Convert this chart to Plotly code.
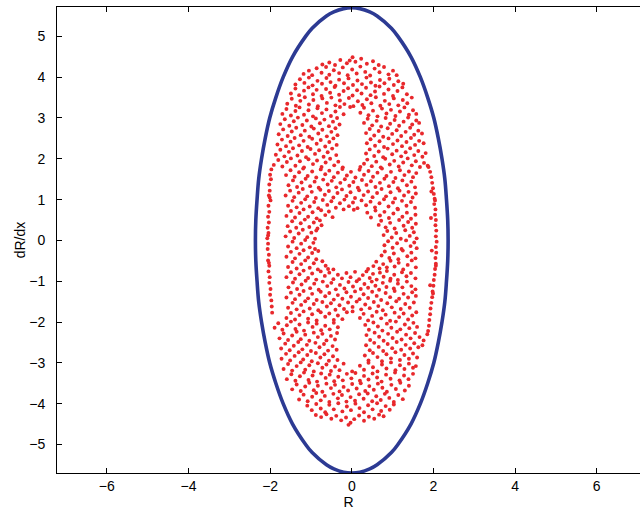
import plotly.graph_objects as go

# ---- Blue boundary curve ----
curve_x = [0.00, 0.20, 0.44, 0.62, 0.97, 1.13, 1.45, 1.68, 1.86, 2.01, 2.12, 2.21, 2.28, 2.32, 2.35, 2.36,
           2.35, 2.32, 2.28, 2.21, 2.12, 2.01, 1.86, 1.68, 1.45, 1.13, 0.97, 0.62, 0.44, 0.20, 0.00,
           -0.20, -0.44, -0.62, -0.97, -1.13, -1.45, -1.68, -1.86, -2.01, -2.12, -2.21, -2.28, -2.32, -2.35, -2.36,
           -2.35, -2.32, -2.28, -2.21, -2.12, -2.01, -1.86, -1.68, -1.45, -1.13, -0.97, -0.62, -0.44, -0.20, 0.00]
curve_y = [5.70, 5.68, 5.60, 5.50, 5.20, 5.00, 4.50, 4.00, 3.50, 3.00, 2.50, 2.00, 1.50, 1.00, 0.50, 0.00,
           -0.50, -1.00, -1.50, -2.00, -2.50, -3.00, -3.50, -4.00, -4.50, -5.00, -5.20, -5.50, -5.60, -5.68, -5.70,
           -5.68, -5.60, -5.50, -5.20, -5.00, -4.50, -4.00, -3.50, -3.00, -2.50, -2.00, -1.50, -1.00, -0.50, 0.00,
           0.50, 1.00, 1.50, 2.00, 2.50, 3.00, 3.50, 4.00, 4.50, 5.00, 5.20, 5.50, 5.60, 5.68, 5.70]

# ---- Red scatter points, grouped by region ----
upper_pts = [
    (-0.72,4.31),(-0.55,4.36),(-0.41,4.30),(-0.28,4.42),(-0.12,4.34),(0.02,4.49),(0.09,4.38),(0.23,4.45),(0.37,4.33),(0.52,4.39),(0.66,4.30),(-0.05,4.41),
    (-1.18,4.08),(-1.05,4.16),(-0.97,4.05),(-0.86,4.22),(-0.74,4.11),(-0.63,4.25),(-0.55,4.06),(-0.44,4.17),(-0.31,4.10),(-0.22,4.24),(-0.10,4.05),(0.01,4.19),(0.12,4.09),(0.21,4.26),(0.33,4.13),(0.45,4.04),(0.56,4.21),(0.68,4.12),(0.79,4.25),(0.90,4.07),(1.01,4.16),(1.10,4.05),
    (-1.38,3.82),(-1.27,3.95),(-1.16,3.86),(-1.05,3.99),(-0.96,3.80),(-0.84,3.91),(-0.73,3.84),(-0.62,3.98),(-0.52,3.88),(-0.40,3.79),(-0.31,3.94),(-0.19,3.85),(-0.08,3.97),(0.03,3.81),(0.14,3.92),(0.25,3.83),(0.36,3.99),(0.47,3.87),(0.58,3.79),(0.69,3.93),(0.80,3.85),(0.92,3.96),(1.03,3.81),(1.14,3.90),(1.26,3.84),
    (-1.49,3.60),(-1.38,3.72),(-1.29,3.56),(-1.17,3.67),(-1.06,3.75),(-0.95,3.58),(-0.86,3.69),(-0.74,3.54),(-0.63,3.71),(-0.53,3.62),(-0.42,3.76),(-0.31,3.57),(-0.20,3.66),(-0.09,3.73),(0.02,3.55),(0.13,3.68),(0.24,3.60),(0.35,3.74),(0.46,3.56),(0.57,3.65),(0.68,3.77),(0.79,3.59),(0.90,3.70),(1.01,3.54),(1.12,3.66),(1.24,3.75),(1.35,3.58),
    (-1.58,3.35),(-1.47,3.47),(-1.37,3.30),(-1.26,3.42),(-1.15,3.51),(-1.05,3.33),(-0.94,3.44),(-0.83,3.29),(-0.72,3.48),(-0.61,3.37),(-0.50,3.50),(-0.40,3.31),(-0.29,3.43),(-0.18,3.34),(-0.07,3.49),(0.04,3.29),(0.15,3.41),(0.26,3.32),(0.37,3.46),(0.48,3.36),(0.59,3.51),(0.70,3.30),(0.81,3.42),(0.92,3.34),(1.03,3.48),(1.14,3.31),(1.25,3.44),(1.36,3.36),(1.47,3.50),
    (-1.70,3.10),(-1.60,3.22),(-1.49,3.06),(-1.38,3.17),(-1.28,3.26),(-1.17,3.08),(-1.06,3.19),(-0.95,3.04),(-0.84,3.24),(-0.73,3.12),(-0.62,3.21),(-0.51,3.05),(-0.40,3.16),(-0.29,3.27),(-0.20,3.09),(-0.04,3.27),(0.21,3.13),(0.30,3.25),(0.41,3.07),(0.52,3.18),(0.63,3.04),(0.74,3.23),(0.85,3.11),(0.96,3.20),(1.07,3.05),(1.18,3.16),(1.29,3.26),(1.40,3.08),(1.50,3.19),(1.58,3.10),
    (-1.75,2.85),(-1.64,2.97),(-1.53,2.81),(-1.42,2.92),(-1.32,3.01),(-1.21,2.83),(-1.10,2.94),(-0.99,2.79),(-0.88,2.99),(-0.78,2.87),(-0.67,2.96),(-0.56,2.80),(-0.46,2.91),(-0.36,3.00),(-0.30,2.84),(0.30,2.88),(0.39,2.98),(0.50,2.82),(0.61,2.93),(0.72,2.79),(0.83,3.00),(0.94,2.86),(1.05,2.95),(1.16,2.81),(1.27,2.91),(1.38,3.01),(1.48,2.84),(1.58,2.94),(1.65,2.88),
    (-1.79,2.60),(-1.68,2.72),(-1.57,2.56),(-1.47,2.67),(-1.36,2.76),(-1.25,2.58),(-1.15,2.69),(-1.04,2.54),(-0.93,2.74),(-0.82,2.62),(-0.72,2.71),(-0.61,2.55),(-0.50,2.66),(-0.40,2.75),(-0.35,2.58),(0.35,2.63),(0.44,2.73),(0.55,2.57),(0.66,2.68),(0.77,2.54),(0.88,2.75),(0.99,2.61),(1.10,2.70),(1.21,2.56),(1.32,2.66),(1.43,2.76),(1.53,2.59),(1.63,2.69),(1.72,2.62),
    (-1.82,2.35),(-1.71,2.47),(-1.61,2.31),(-1.50,2.42),(-1.40,2.51),(-1.29,2.33),(-1.18,2.44),(-1.08,2.29),(-0.97,2.49),(-0.86,2.37),(-0.76,2.46),(-0.65,2.30),(-0.55,2.41),(-0.45,2.50),(-0.37,2.34),(0.37,2.38),(0.46,2.48),(0.57,2.32),(0.68,2.43),(0.79,2.29),(0.90,2.50),(1.01,2.36),(1.12,2.45),(1.23,2.31),(1.34,2.41),(1.45,2.51),(1.55,2.34),(1.65,2.44),(1.76,2.38),
    (-1.86,2.10),(-1.75,2.22),(-1.65,2.06),(-1.54,2.17),(-1.44,2.26),(-1.33,2.08),(-1.22,2.19),(-1.12,2.04),(-1.01,2.24),(-0.90,2.12),(-0.80,2.21),(-0.69,2.05),(-0.59,2.16),(-0.48,2.25),(-0.38,2.09),(0.35,2.13),(0.44,2.23),(0.55,2.07),(0.66,2.18),(0.77,2.04),(0.88,2.25),(0.99,2.11),(1.10,2.20),(1.21,2.06),(1.32,2.16),(1.43,2.26),(1.53,2.09),(1.63,2.19),(1.73,2.05),(1.81,2.14),
    (-1.91,1.85),(-1.80,1.97),(-1.70,1.81),(-1.59,1.92),(-1.49,2.01),(-1.38,1.83),(-1.27,1.94),(-1.17,1.79),(-1.06,1.99),(-0.95,1.87),(-0.85,1.96),(-0.74,1.80),(-0.64,1.91),(-0.53,2.00),(-0.43,1.84),(-0.33,1.93),(-0.22,1.79),(0.21,1.80),(0.30,1.88),(0.38,1.98),(0.49,1.82),(0.60,1.93),(0.71,1.79),(0.82,2.00),(0.93,1.86),(1.04,1.95),(1.15,1.81),(1.26,1.91),(1.37,2.01),(1.47,1.84),(1.57,1.94),(1.67,1.80),(1.77,1.90),(1.86,1.83),
]

middle_pts = [
    (-1.61,1.60),(-1.50,1.72),(-1.40,1.56),(-1.29,1.67),(-1.19,1.76),(-1.08,1.58),(-0.97,1.69),(-0.87,1.54),(-0.76,1.74),(-0.65,1.62),(-0.55,1.71),(-0.44,1.55),(-0.34,1.66),(-0.23,1.75),(-0.12,1.59),(-0.02,1.68),(0.09,1.54),(0.19,1.73),(0.30,1.61),(0.41,1.70),(0.52,1.56),(0.63,1.66),(0.74,1.76),(0.85,1.58),(0.96,1.68),(1.07,1.53),(1.18,1.72),(1.29,1.60),(1.40,1.69),(1.50,1.55),(1.58,1.65),
    (-1.55,1.35),(-1.44,1.47),(-1.34,1.31),(-1.23,1.42),(-1.13,1.51),(-1.02,1.33),(-0.91,1.44),(-0.81,1.29),(-0.70,1.49),(-0.59,1.37),(-0.49,1.46),(-0.38,1.30),(-0.28,1.41),(-0.17,1.50),(-0.06,1.34),(0.04,1.43),(0.15,1.29),(0.25,1.48),(0.36,1.36),(0.47,1.45),(0.58,1.31),(0.69,1.41),(0.80,1.51),(0.91,1.33),(1.02,1.43),(1.13,1.28),(1.24,1.47),(1.35,1.35),(1.46,1.44),(1.55,1.30),
    (-1.62,1.10),(-1.51,1.22),(-1.41,1.06),(-1.30,1.17),(-1.20,1.26),(-1.09,1.08),(-0.98,1.19),(-0.88,1.04),(-0.77,1.24),(-0.66,1.12),(-0.56,1.21),(-0.45,1.05),(-0.35,1.16),(-0.24,1.25),(-0.13,1.09),(-0.03,1.18),(0.08,1.04),(0.18,1.23),(0.29,1.11),(0.40,1.20),(0.51,1.06),(0.62,1.16),(0.73,1.26),(0.84,1.08),(0.95,1.18),(1.06,1.03),(1.17,1.22),(1.28,1.10),(1.39,1.19),(1.49,1.05),(1.57,1.15),
    (-1.56,0.85),(-1.45,0.97),(-1.35,0.81),(-1.24,0.92),(-1.14,1.01),(-1.03,0.83),(-0.92,0.94),(-0.82,0.79),(-0.71,0.99),(-0.60,0.87),(-0.50,0.96),(-0.39,0.80),(-0.29,0.91),(-0.18,1.00),(-0.07,0.84),(0.03,0.93),(0.14,0.79),(0.24,0.98),(0.35,0.86),(0.46,0.95),(0.57,0.81),(0.68,0.91),(0.79,1.01),(0.90,0.83),(1.01,0.93),(1.12,0.78),(1.23,0.97),(1.34,0.85),(1.45,0.94),(1.55,0.80),
    (-1.60,0.60),(-1.49,0.72),(-1.39,0.56),(-1.28,0.67),(-1.18,0.76),(-1.07,0.58),(-0.96,0.69),(-0.86,0.54),(-0.75,0.74),(-0.65,0.62),(-0.56,0.71),(-0.47,0.57),(-0.20,0.76),(0.05,0.75),(0.38,0.68),(0.47,0.56),(0.58,0.73),(0.69,0.61),(0.80,0.70),(0.91,0.55),(1.02,0.66),(1.13,0.76),(1.24,0.58),(1.35,0.68),(1.45,0.53),(1.56,0.63),
    (-1.57,0.35),(-1.46,0.47),(-1.36,0.31),(-1.25,0.42),(-1.15,0.51),(-1.04,0.33),(-0.93,0.44),(-0.84,0.29),(-0.78,0.49),(-0.74,0.37),(0.66,0.38),(0.72,0.48),(0.83,0.32),(0.94,0.43),(1.05,0.29),(1.16,0.50),(1.27,0.36),(1.38,0.45),(1.48,0.31),(1.57,0.41),
    (-1.62,0.10),(-1.51,0.22),(-1.41,0.06),(-1.30,0.17),(-1.20,0.26),(-1.09,0.08),(-0.99,0.19),(-0.90,0.04),(-0.87,0.24),(0.78,0.13),(0.87,0.23),(0.98,0.07),(1.09,0.18),(1.20,0.04),(1.31,0.25),(1.42,0.11),(1.52,0.20),(1.59,0.05),
    (-1.56,-0.15),(-1.45,-0.03),(-1.35,-0.19),(-1.24,-0.08),(-1.14,0.01),(-1.03,-0.17),(-0.94,-0.06),(-0.90,-0.21),(0.80,-0.12),(0.89,-0.02),(1.00,-0.18),(1.11,-0.07),(1.22,-0.21),(1.33,0.00),(1.44,-0.14),(1.53,-0.05),(1.59,-0.19),
    (-1.60,-0.40),(-1.49,-0.28),(-1.39,-0.44),(-1.28,-0.33),(-1.18,-0.24),(-1.07,-0.42),(-0.97,-0.31),(-0.87,-0.46),(-0.82,-0.26),(0.73,-0.37),(0.81,-0.27),(0.92,-0.43),(1.03,-0.32),(1.14,-0.46),(1.25,-0.25),(1.36,-0.39),(1.46,-0.30),(1.56,-0.44),
    (-1.56,-0.65),(-1.45,-0.53),(-1.35,-0.69),(-1.24,-0.58),(-1.14,-0.49),(-1.03,-0.67),(-0.93,-0.56),(-0.83,-0.71),(-0.72,-0.51),(-0.64,-0.62),(-0.58,-0.70),(-0.45,-0.71),(0.40,-0.70),(0.53,-0.63),(0.60,-0.52),(0.68,-0.69),(0.77,-0.58),(0.86,-0.66),(0.95,-0.50),(1.05,-0.64),(1.15,-0.55),(1.26,-0.71),(1.37,-0.60),(1.47,-0.49),(1.57,-0.66),
    (-1.60,-0.90),(-1.49,-0.78),(-1.39,-0.94),(-1.28,-0.83),(-1.18,-0.74),(-1.07,-0.92),(-0.97,-0.81),(-0.87,-0.96),(-0.76,-0.76),(-0.66,-0.87),(-0.55,-0.79),(-0.45,-0.95),(-0.34,-0.84),(-0.24,-0.93),(-0.13,-0.80),(-0.03,-0.90),(0.08,-0.77),(0.18,-0.95),(0.27,-0.85),(0.36,-0.76),(0.44,-0.92),(0.52,-0.82),(0.61,-0.96),(0.69,-0.79),(0.78,-0.89),(0.86,-0.75),(0.95,-0.94),(1.04,-0.84),(1.13,-0.97),(1.23,-0.78),(1.34,-0.88),(1.45,-0.80),(1.56,-0.93),
    (-1.55,-1.15),(-1.44,-1.03),(-1.34,-1.19),(-1.23,-1.08),(-1.13,-0.99),(-1.02,-1.17),(-0.92,-1.06),(-0.81,-1.21),(-0.71,-1.01),(-0.60,-1.12),(-0.50,-1.04),(-0.39,-1.20),(-0.29,-1.09),(-0.18,-1.18),(-0.08,-1.02),(0.03,-1.13),(0.12,-1.00),(0.22,-1.19),(0.31,-1.07),(0.40,-1.16),(0.49,-1.01),(0.58,-1.11),(0.67,-1.21),(0.76,-1.04),(0.85,-1.14),(0.94,-0.99),(1.03,-1.18),(1.13,-1.06),(1.24,-1.15),(1.35,-1.01),(1.46,-1.12),(1.56,-1.20),
    (-1.60,-1.40),(-1.49,-1.28),(-1.39,-1.44),(-1.28,-1.33),(-1.18,-1.24),(-1.07,-1.42),(-0.97,-1.31),(-0.86,-1.46),(-0.76,-1.26),(-0.65,-1.37),(-0.55,-1.29),(-0.44,-1.45),(-0.34,-1.34),(-0.23,-1.43),(-0.13,-1.27),(-0.02,-1.38),(0.08,-1.25),(0.19,-1.44),(0.29,-1.32),(0.40,-1.41),(0.50,-1.26),(0.61,-1.36),(0.72,-1.46),(0.83,-1.29),(0.94,-1.39),(1.05,-1.24),(1.16,-1.43),(1.27,-1.31),(1.38,-1.40),(1.48,-1.27),(1.57,-1.36),
    (-1.56,-1.65),(-1.45,-1.53),(-1.35,-1.69),(-1.24,-1.58),(-1.14,-1.49),(-1.03,-1.67),(-0.93,-1.56),(-0.82,-1.71),(-0.72,-1.51),(-0.61,-1.62),(-0.51,-1.54),(-0.40,-1.70),(-0.30,-1.59),(-0.19,-1.68),(-0.09,-1.52),(0.02,-1.63),(0.12,-1.50),(0.23,-1.69),(0.33,-1.57),(0.44,-1.66),(0.54,-1.51),(0.65,-1.61),(0.76,-1.71),(0.87,-1.54),(0.98,-1.64),(1.09,-1.49),(1.20,-1.68),(1.31,-1.56),(1.42,-1.65),(1.52,-1.52),
]

ring_pts = [
    (-1.97,1.74),(-2.00,1.61),(-1.98,1.50),(-2.02,1.37),(-2.01,1.22),(-2.03,1.10),(-1.99,0.98),(-2.04,0.85),(-2.02,0.70),(-2.05,0.58),(-2.03,0.44),(-2.06,0.31),(-2.04,0.18),(-2.07,0.05),(-2.05,-0.08),(-2.06,-0.21),(-2.03,-0.35),(-2.05,-0.49),(-2.02,-0.62),(-2.04,-0.76),(-2.01,-0.90),(-2.02,-1.04),(-1.99,-1.19),(-2.00,-1.33),(-1.97,-1.47),(-1.96,-1.62),(-1.95,-1.77),(-2.03,-0.55),(-2.05,0.12),(-2.01,1.05),
    (1.88,1.80),(1.92,1.68),(1.95,1.55),(1.97,1.41),(1.99,1.28),(2.01,1.14),(2.03,1.02),(2.02,0.89),(2.05,0.76),(2.04,0.63),(2.06,0.50),(2.05,0.37),(2.07,0.24),(2.06,0.10),(2.08,-0.03),(2.06,-0.16),(2.07,-0.30),(2.05,-0.43),(2.06,-0.57),(2.04,-0.70),(2.03,-0.84),(2.01,-0.97),(2.00,-1.11),(1.98,-1.25),(1.97,-1.39),(1.95,-1.53),(1.93,-1.67),(1.92,-1.81),(1.90,-1.95),(1.89,-2.09),(1.87,-2.22),(2.04,0.98),(2.06,-0.62),(1.99,-1.30),(1.94,0.55),(1.96,-0.25),(1.92,-1.10),(1.95,1.20),
]

lower_pts = [
    (-1.60,-1.90),(-1.49,-1.78),(-1.39,-1.94),(-1.28,-1.83),(-1.18,-1.74),(-1.07,-1.92),(-0.97,-1.81),(-0.86,-1.96),(-0.76,-1.76),(-0.65,-1.87),(-0.55,-1.79),(-0.44,-1.95),(-0.34,-1.84),(-0.23,-1.93),(-0.12,-1.76),(0.02,-1.74),(0.20,-1.90),(0.29,-1.80),(0.40,-1.96),(0.50,-1.85),(0.61,-1.75),(0.72,-1.91),(0.83,-1.82),(0.94,-1.97),(1.05,-1.77),(1.16,-1.88),(1.27,-1.79),(1.38,-1.94),(1.48,-1.84),(1.58,-1.76),
    (-1.89,-2.14),(-1.80,-2.03),(-1.70,-2.19),(-1.59,-2.08),(-1.49,-1.99),(-1.38,-2.17),(-1.28,-2.06),(-1.17,-2.21),(-1.07,-2.01),(-0.96,-2.12),(-0.86,-2.04),(-0.75,-2.20),(-0.65,-2.09),(-0.54,-2.18),(-0.44,-2.02),(-0.34,-2.13),(0.33,-2.07),(0.42,-2.19),(0.53,-2.01),(0.64,-2.11),(0.75,-2.21),(0.86,-2.04),(0.97,-2.14),(1.08,-1.99),(1.19,-2.18),(1.30,-2.06),(1.41,-2.15),(1.51,-2.02),(1.60,-2.12),
    (-1.77,-2.40),(-1.67,-2.28),(-1.56,-2.44),(-1.46,-2.33),(-1.35,-2.24),(-1.25,-2.42),(-1.14,-2.31),(-1.04,-2.46),(-0.93,-2.26),(-0.83,-2.37),(-0.72,-2.29),(-0.62,-2.45),(-0.51,-2.34),(-0.41,-2.43),(-0.36,-2.27),(0.36,-2.32),(0.45,-2.44),(0.56,-2.26),(0.67,-2.36),(0.78,-2.46),(0.89,-2.29),(1.00,-2.39),(1.11,-2.24),(1.22,-2.43),(1.33,-2.31),(1.44,-2.40),(1.55,-2.27),(1.66,-2.37),(1.76,-2.45),(1.85,-2.30),
    (-1.73,-2.65),(-1.63,-2.53),(-1.52,-2.69),(-1.42,-2.58),(-1.31,-2.49),(-1.21,-2.67),(-1.10,-2.56),(-1.00,-2.71),(-0.89,-2.51),(-0.79,-2.62),(-0.68,-2.54),(-0.58,-2.70),(-0.47,-2.59),(-0.37,-2.68),(0.35,-2.57),(0.44,-2.69),(0.55,-2.51),(0.66,-2.61),(0.77,-2.71),(0.88,-2.54),(0.99,-2.64),(1.10,-2.49),(1.21,-2.68),(1.32,-2.56),(1.43,-2.65),(1.53,-2.52),(1.63,-2.62),(1.73,-2.57),
    (-1.72,-2.90),(-1.61,-2.78),(-1.51,-2.94),(-1.40,-2.83),(-1.30,-2.74),(-1.19,-2.92),(-1.09,-2.81),(-0.98,-2.96),(-0.88,-2.76),(-0.77,-2.87),(-0.67,-2.79),(-0.56,-2.95),(-0.46,-2.84),(-0.35,-2.93),(0.32,-2.82),(0.41,-2.94),(0.52,-2.76),(0.63,-2.86),(0.74,-2.96),(0.85,-2.79),(0.96,-2.89),(1.07,-2.74),(1.18,-2.93),(1.29,-2.81),(1.40,-2.90),(1.50,-2.77),(1.60,-2.87),
    (-1.67,-3.15),(-1.56,-3.03),(-1.46,-3.19),(-1.35,-3.08),(-1.25,-2.99),(-1.14,-3.17),(-1.04,-3.06),(-0.93,-3.21),(-0.83,-3.01),(-0.72,-3.12),(-0.62,-3.04),(-0.51,-3.20),(-0.41,-3.09),(-0.30,-3.18),(-0.20,-3.02),(0.01,-3.21),(0.20,-3.07),(0.30,-3.17),(0.41,-3.00),(0.52,-3.11),(0.63,-3.21),(0.74,-3.04),(0.85,-3.14),(0.96,-2.99),(1.07,-3.18),(1.18,-3.06),(1.29,-3.15),(1.40,-3.02),(1.50,-3.12),(1.57,-3.08),
    (-1.59,-3.40),(-1.48,-3.28),(-1.38,-3.44),(-1.27,-3.33),(-1.17,-3.24),(-1.06,-3.42),(-0.96,-3.31),(-0.85,-3.46),(-0.75,-3.26),(-0.64,-3.37),(-0.54,-3.29),(-0.43,-3.45),(-0.33,-3.34),(-0.22,-3.43),(-0.12,-3.27),(-0.01,-3.38),(0.09,-3.25),(0.20,-3.44),(0.30,-3.32),(0.41,-3.41),(0.51,-3.26),(0.62,-3.36),(0.73,-3.46),(0.84,-3.29),(0.95,-3.39),(1.06,-3.24),(1.17,-3.43),(1.28,-3.31),(1.39,-3.40),(1.50,-3.27),
    (-1.46,-3.65),(-1.35,-3.53),(-1.25,-3.69),(-1.14,-3.58),(-1.04,-3.49),(-0.93,-3.67),(-0.83,-3.56),(-0.72,-3.71),(-0.62,-3.51),(-0.51,-3.62),(-0.41,-3.54),(-0.30,-3.70),(-0.20,-3.59),(-0.09,-3.68),(0.01,-3.52),(0.12,-3.63),(0.22,-3.50),(0.33,-3.69),(0.43,-3.57),(0.54,-3.66),(0.64,-3.51),(0.75,-3.61),(0.86,-3.71),(0.97,-3.54),(1.08,-3.64),(1.19,-3.49),(1.30,-3.68),(1.40,-3.56),
    (-1.29,-3.90),(-1.18,-3.78),(-1.08,-3.94),(-0.97,-3.83),(-0.87,-3.74),(-0.76,-3.92),(-0.66,-3.81),(-0.55,-3.96),(-0.45,-3.76),(-0.34,-3.87),(-0.24,-3.79),(-0.13,-3.95),(-0.03,-3.84),(0.08,-3.93),(0.18,-3.77),(0.29,-3.88),(0.39,-3.75),(0.50,-3.94),(0.60,-3.82),(0.71,-3.91),(0.81,-3.76),(0.92,-3.86),(1.03,-3.96),(1.14,-3.79),(1.25,-3.89),
    (-1.09,-4.05),(-0.98,-4.16),(-0.87,-4.01),(-0.76,-4.12),(-0.65,-4.21),(-0.55,-4.03),(-0.44,-4.14),(-0.33,-3.99),(-0.23,-4.19),(-0.12,-4.07),(-0.02,-4.16),(0.09,-4.00),(0.19,-4.11),(0.30,-4.21),(0.40,-4.04),(0.51,-4.14),(0.62,-3.99),(0.72,-4.18),(0.83,-4.06),(0.93,-4.15),(1.03,-4.02),
    (-0.88,-4.28),(-0.75,-4.33),(-0.62,-4.26),(-0.50,-4.37),(-0.38,-4.30),(-0.26,-4.41),(-0.14,-4.34),(-0.03,-4.47),(0.06,-4.38),(0.18,-4.29),(0.30,-4.42),(0.42,-4.32),(0.55,-4.37),(0.67,-4.27),(0.78,-4.31),(-0.08,-4.52),
]

x_ticks = [-6, -4, -2, 0, 2, 4, 6]
y_ticks = [-5, -4, -3, -2, -1, 0, 1, 2, 3, 4, 5]
x_label = "R"
y_label = "dR/dx"

RED = "#E8282C"
BLUE = "#2C3A93"
FONT = "Liberation Sans, Arial, Helvetica, sans-serif"

fig = go.Figure()

all_pts = upper_pts + middle_pts + ring_pts + lower_pts
fig.add_trace(go.Scatter(
    x=[p[0] for p in all_pts], y=[p[1] for p in all_pts],
    mode="markers", marker=dict(color=RED, size=3.9, line=dict(width=0)),
    hoverinfo="skip", showlegend=False))

fig.add_trace(go.Scatter(
    x=curve_x, y=curve_y, mode="lines",
    line=dict(color=BLUE, width=3.6, shape="spline", smoothing=1.0),
    hoverinfo="skip", showlegend=False))

axis_common = dict(showgrid=False, zeroline=False, showline=True, linecolor="black",
                   linewidth=1, ticks="inside", ticklen=5, tickwidth=1, tickcolor="black",
                   automargin=False,
                   tickfont=dict(family=FONT, size=14, color="black"))

fig.update_layout(
    width=640, height=515,
    margin=dict(l=57, r=0, t=7, b=42),
    paper_bgcolor="white", plot_bgcolor="white",
    font=dict(family=FONT, size=14, color="black"),
    xaxis=dict(range=[-7.22, 7.06], tickvals=x_ticks, mirror="ticks",
               title=dict(text=x_label, font=dict(family=FONT, size=14), standoff=2),
               **axis_common),
    yaxis=dict(range=[-5.7, 5.72], tickvals=y_ticks, mirror=False,
               ticklabelstandoff=8,
               title=dict(text=y_label, font=dict(family=FONT, size=14), standoff=0),
               **axis_common),
)

fig.write_html(
    "out.html",
    config={"displayModeBar": False},
    post_script="document.body.style.margin='0px';document.body.style.overflow='hidden';",
)
